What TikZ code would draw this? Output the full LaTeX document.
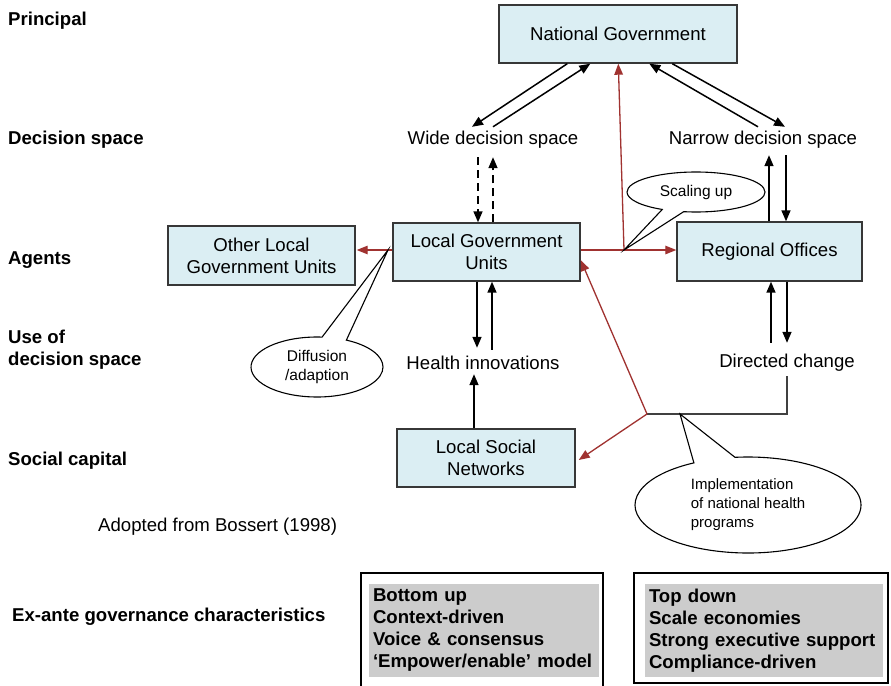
\documentclass[tikz,border=0pt]{standalone}
\usepackage{fontspec}
\setmainfont{Liberation Sans}
\usetikzlibrary{arrows.meta,calc,shapes.callouts,shapes.geometric}
\definecolor{boxfill}{RGB}{219,238,243}
\definecolor{boxline}{RGB}{55,55,55}
\definecolor{redline}{RGB}{160,50,48}
\definecolor{grayfill}{RGB}{204,204,204}
\begin{document}
\begin{tikzpicture}[x=1pt,y=-1pt,
  mainfont/.style={font=\fontsize{18.6}{22}\selectfont},
  bluebox/.style={draw=boxline, line width=1.4pt, fill=boxfill, align=center, inner sep=0pt, mainfont},
  plain/.style={inner sep=0pt, minimum height=26pt, mainfont},
  rowlabel/.style={anchor=west, inner sep=0pt, align=left, font=\bfseries\fontsize{18.6}{22}\selectfont},
  arr/.style={-{Triangle[length=11pt,width=9pt]}, line width=1.5pt, black},
  redarr/.style={-{Triangle[length=11pt,width=8.5pt]}, line width=1.3pt, redline},
  bubble/.style={ellipse callout, draw=black, line width=1.1pt, fill=white, inner sep=0pt, align=center, font=\fontsize{15.5}{19}\selectfont},
  charbox/.style={fill=grayfill, inner xsep=4pt, inner ysep=0pt, align=left, font=\bfseries\fontsize{18.6}{22}\selectfont},
  framebox/.style={draw=black, line width=1.4pt}
]
\clip (0,0) rectangle (891,685);
\fill[white] (0,0) rectangle (891,685);

% row labels
\node[rowlabel] (lprin) at (8,21) {Principal};
\node[rowlabel] (ldec) at (8,140) {Decision space};
\node[rowlabel] (lag) at (8,260) {Agents};
\node[rowlabel] (luse) at (8,350) {Use of\\decision space};
\node[rowlabel] (lsoc) at (8,461) {Social capital};
\node[anchor=west, inner sep=0pt, mainfont] (adopt) at (98,527) {Adopted from Bossert (1998)};
\node[rowlabel] (lex) at (12,617) {Ex-ante governance characteristics};

% boxes
\node[bluebox, minimum width=238pt, minimum height=58pt] (ng) at (618,34) {National Government};
\node[bluebox, minimum width=187pt, minimum height=59pt] (olgu) at (261.5,255.5) {Other Local\\Government Units};
\node[bluebox, minimum width=187pt, minimum height=58pt] (lgu) at (486.5,252) {Local Government\\Units};
\node[bluebox, minimum width=185pt, minimum height=59pt] (ro) at (769.5,251.5) {Regional Offices};
\node[bluebox, minimum width=178pt, minimum height=58pt] (lsn) at (486,458) {Local Social\\Networks};

% plain texts
\node[plain] (wide) at (493,140) {Wide decision space};
\node[plain] (narrow) at (763,140) {Narrow decision space};
\node[plain] (hi) at (483,363) {Health innovations};
\node[plain] (dc) at (787,363) {Directed change};

% black arrows
\draw[arr] ($(ng.south west)+(69,0)$) -- ($(wide.north)+(-21,0)$);
\draw[arr] (wide.north) -- ($(ng.south west)+(92,0)$);
\draw[arr] ($(ng.south west)+(174,0)$) -- ($(narrow.north)+(22,0)$);
\draw[arr] ($(narrow.north)+(-5,0)$) -- ($(ng.south west)+(151,0)$);

\draw[arr, dash pattern=on 8pt off 5pt] ($(wide.south)+(-15,4)$) -- ($(lgu.north)+(-8.5,0)$);
\draw[arr, dash pattern=on 8pt off 5pt] ($(lgu.north)+(6.5,0)$) -- ($(wide.south)+(0,4)$);

\draw[arr] ($(ro.north)+(-0.5,0)$) -- ($(narrow.south)+(6,2)$);
\draw[arr] ($(narrow.south)+(23,2)$) -- ($(ro.north)+(16.5,0)$);

\draw[arr] ($(lgu.south)+(-9.5,0)$) -- ($(hi.north)+(-6,-2)$);
\draw[arr] ($(hi.north)+(9,0)$) -- ($(lgu.south)+(5.5,0)$);
\draw[arr] ($(lsn.north)+(-12,0)$) -- ($(hi.south)+(-9,-2)$);

\draw[arr] ($(dc.north)+(-16,-7)$) -- ($(ro.south)+(1.5,0)$);
\draw[arr] ($(ro.south)+(17.5,0)$) -- ($(dc.north)+(0,-7)$);

% junctions
\coordinate (sc) at (624,250);
\coordinate (jn) at (647,414);
\coordinate (dtip) at (388,250);

% red arrows
\draw[redarr] ($(lgu.east)+(0,-2)$) -- ($(ro.west)+(0,-1.5)$);
\draw[redarr] (sc) -- ($(ng.south west)+(120,0)$);
\draw[redarr] ($(lgu.west)+(0,-2)$) -- ($(olgu.east)+(1,-5.5)$);
\draw[line width=1.2pt, black!75] (dc.south) -- (dc.south |- jn) -- (jn);
\draw[redarr] (jn) -- ($(lgu.east)+(0,8)$);
\draw[redarr] (jn) -- ($(lsn.east)+(3,2)$);

% callouts
\node[bubble, minimum width=138pt, minimum height=40pt, callout absolute pointer={(sc)}, callout pointer arc=19] (scal) at (696,192) {Scaling up};
\node[bubble, minimum width=132pt, minimum height=60pt, callout absolute pointer={(dtip)}, callout pointer arc=22] (diff) at (317,367) {Diffusion\\/adaption};
\node[bubble, align=left, font=\fontsize{15}{19}\selectfont, minimum width=226pt, minimum height=96pt, callout absolute pointer={($(jn)+(33,0)$)}, callout pointer arc=22] (impl) at (748,505) {Implementation\\of national health\\programs};

% characteristics
\node[framebox, minimum width=242pt, minimum height=130pt] (lbox) at (482,638) {};
\node[framebox, minimum width=254pt, minimum height=110pt] (rbox) at (761,628) {};
\node[charbox, text width=222pt, minimum height=93pt] (bu) at (484,630.5) {Bottom up\\Context-driven\\Voice \& consensus\\‘Empower/enable’ model};
\node[charbox, text width=230pt, minimum height=93pt] (td) at (764,630.5) {Top down\\Scale economies\\Strong executive support\\Compliance-driven};
\end{tikzpicture}
\end{document}
